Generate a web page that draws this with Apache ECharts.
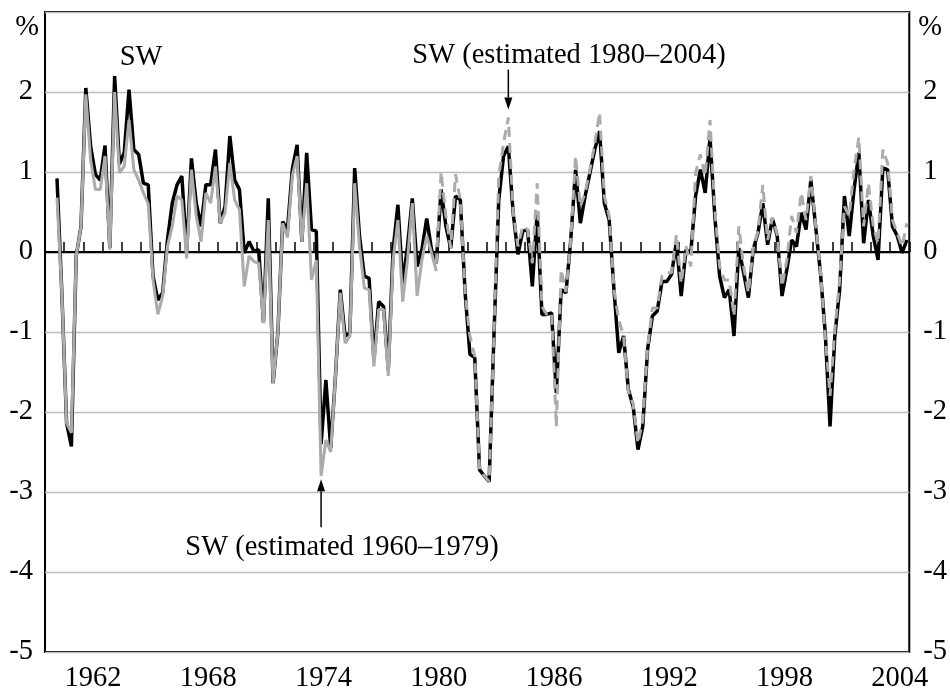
<!DOCTYPE html>
<html>
<head>
<meta charset="utf-8">
<script src="https://cdn.jsdelivr.net/npm/echarts@6/dist/echarts.min.js"></script>
<style>
  html, body { margin: 0; padding: 0; background: #fff; }
  #chart { width: 950px; height: 696px; }
</style>
</head>
<body>
<div id="chart"></div>
<script>
// quarterly observations, first one is 1960 Q3 (plotted mid-quarter)
const firstQuarter = 1960.625
const yearTicks = { min: 1960, max: 2005 }
const labelYears = [1962, 1968, 1974, 1980, 1986, 1992, 1998, 2004]

// SW, full sample (black)
const sw = [
  0.92, -0.5, -2.14, -2.43, -0.05, 0.32, 2.05, 1.32, 0.97, 0.9,
  1.33, 0.05, 2.2, 1.1, 1.24, 2.03, 1.28, 1.22, 0.86, 0.84,
  -0.3, -0.6, -0.51, 0.15, 0.61, 0.84, 0.95, 0.0, 1.17, 0.61,
  0.32, 0.84, 0.84, 1.28, 0.36, 0.57, 1.45, 0.9, 0.78, -0.01,
  0.13, 0.01, 0.03, -0.88, 0.67, -1.64, -1.01, 0.38, 0.28, 1.03,
  1.34, 0.13, 1.24, 0.28, 0.26, -2.4, -1.6, -2.45, -1.55, -0.47,
  -1.05, -1.01, 1.05, 0.2, -0.3, -0.33, -1.35, -0.62, -0.68, -1.47,
  0.03, 0.59, -0.39, 0.07, 0.67, -0.18, 0.03, 0.42, 0.03, -0.14,
  0.78, 0.32, 0.05, 0.7, 0.65, -0.51, -1.28, -1.32, -2.72, -2.8,
  -2.87, -1.05, 0.65, 1.2, 1.32, 0.49, -0.03, 0.26, 0.28, -0.43,
  0.49, -0.78, -0.78, -0.76, -1.76, -0.47, -0.51, 0.15, 1.03, 0.36,
  0.7, 0.99, 1.28, 1.51, 0.61, 0.4, -0.47, -1.26, -1.05, -1.72,
  -1.93, -2.47, -2.18, -1.22, -0.8, -0.74, -0.37, -0.37, -0.28, 0.13,
  -0.55, 0.03, -0.01, 0.7, 1.03, 0.74, 1.43, 0.45, -0.3, -0.57,
  -0.47, -1.05, 0.05, -0.26, -0.57, 0.03, 0.24, 0.61, 0.09, 0.42,
  0.2, -0.55, -0.22, 0.15, 0.07, 0.49, 0.28, 0.9, 0.32, -0.26,
  -1.01, -2.18, -1.05, -0.47, 0.7, 0.2, 0.78, 1.24, 0.11, 0.65,
  0.2, -0.1, 1.05, 1.03, 0.32, 0.2, -0.01, 0.15
]

// SW estimated 1960-1979 (grey solid), starts at the first quarter
const sw6079 = [
  0.68, -0.5, -2.14, -2.26, -0.05, 0.32, 1.97, 1.15, 0.78, 0.78,
  1.2, 0.03, 2.0, 0.99, 1.07, 1.65, 1.03, 0.9, 0.74, 0.6,
  -0.35, -0.78, -0.55, 0.07, 0.32, 0.7, 0.65, -0.08, 1.03, 0.45,
  0.13, 0.74, 0.61, 1.07, 0.36, 0.49, 1.11, 0.65, 0.53, -0.43,
  -0.05, -0.12, -0.14, -0.89, 0.4, -1.64, -1.01, 0.36, 0.18, 0.95,
  1.2, 0.13, 0.86, -0.35, -0.1, -2.8, -2.35, -2.5, -1.55, -0.51,
  -1.14, -1.05, 0.86, 0.07, -0.45, -0.47, -1.43, -0.72, -0.72, -1.55,
  -0.1, 0.4, -0.62, -0.1, 0.61, -0.55, -0.1, 0.2, -0.01, -0.24
]

// SW estimated 1980-2004 (grey dashed), starts at observation 79
const sw8004Start = 79
const sw8004 = [
  -0.14, 1.0, 0.45, 0.05, 0.97, 0.65, -0.51, -1.05, -1.3, -2.72,
  -2.8, -2.87, -1.05, 0.95, 1.36, 1.68, 0.5, 0.07, 0.32, 0.28,
  -0.14, 0.86, -0.68, -0.78, -0.76, -2.18, -0.22, -0.5, 0.15, 1.2,
  0.57, 0.74, 1.03, 1.36, 1.74, 0.7, 0.45, -0.47, -0.85, -1.05,
  -1.74, -1.9, -2.39, -2.1, -1.2, -0.7, -0.7, -0.3, -0.26, -0.26,
  0.22, -0.39, 0.07, -0.18, 0.99, 1.22, 0.95, 1.65, 0.53, -0.18,
  -0.35, -0.35, -0.8, 0.32, -0.18, -0.51, 0.05, 0.26, 0.84, 0.15,
  0.43, 0.22, -0.43, -0.1, 0.45, 0.24, 0.74, 0.4, 0.95, 0.34,
  -0.24, -1.05, -1.8, -0.97, -0.35, 0.57, 0.45, 1.03, 1.43, 0.32,
  0.86, 0.32, 0.11, 1.28, 1.11, 0.4, 0.24, 0.07, 0.36
]

const dates = sw.map((_, i) => firstQuarter + i * 0.25)
const pairs = (vals, start) => vals.map((v, k) => [dates[start + k], v])

const font = 'Liberation Serif, Times New Roman, serif'
const fontSize = 28.5
const grey = '#ababab'
const gridGrey = '#bdbdbd'

const chart = echarts.init(document.getElementById('chart'))

const option = {
  animation: false,
  backgroundColor: '#fff',
  textStyle: { fontFamily: font },
  grid: {
    show: true,
    left: 45, right: 39, top: 12, bottom: 44,
    borderColor: '#000', borderWidth: 2
  },
  xAxis: [
    {
      type: 'value',
      min: yearTicks.min, max: yearTicks.max, interval: 1,
      axisLine: { show: true, lineStyle: { color: '#000', width: 2 } },
      axisTick: { show: true, inside: true, length: 10, lineStyle: { color: '#000', width: 1.5 } },
      axisLabel: { show: false },
      splitLine: { show: false }
    },
    {
      type: 'value',
      position: 'bottom',
      min: yearTicks.min, max: yearTicks.max, interval: 0.5,
      axisLine: { show: false },
      axisTick: { show: false },
      splitLine: { show: false },
      axisLabel: {
        margin: 12,
        fontSize: fontSize, color: '#000', fontFamily: font,
        formatter: v => {
          const y = Math.floor(v)
          return (v - y === 0.5 && labelYears.indexOf(y) >= 0) ? String(y) : ''
        }
      }
    }
  ],
  yAxis: [
    {
      type: 'value', position: 'left',
      min: -5, max: 3, interval: 1,
      axisLine: { show: false },
      axisTick: { show: false },
      axisLabel: {
        margin: 12, fontSize: fontSize, color: '#000', fontFamily: font,
        formatter: v => v === 3 ? '' : String(v)
      },
      splitLine: {
        show: true,
        lineStyle: {
          color: [gridGrey, gridGrey, gridGrey, gridGrey, gridGrey, '#000', gridGrey, gridGrey, gridGrey],
          width: 1.3
        }
      }
    },
    {
      type: 'value', position: 'right',
      min: -5, max: 3, interval: 1,
      axisLine: { show: false },
      axisTick: { show: false },
      axisLabel: {
        margin: 14, fontSize: fontSize, color: '#000', fontFamily: font,
        formatter: v => v === 3 ? '' : String(v)
      },
      splitLine: { show: false }
    }
  ],
  series: [
    {
      name: 'SW', type: 'line', symbol: 'none',
      data: pairs(sw, 0),
      lineStyle: { color: '#000', width: 3.5 }
    },
    {
      name: 'SW (estimated 1960–1979)', type: 'line', symbol: 'none',
      data: pairs(sw6079, 0),
      lineStyle: { color: grey, width: 3 }
    },
    {
      name: 'SW (estimated 1980–2004)', type: 'line', symbol: 'none',
      data: pairs(sw8004, sw8004Start),
      lineStyle: { color: grey, width: 3, type: [10, 6] }
    }
  ]
}

chart.setOption(option)

// annotations: arrows anchored in data space
const px = (x, y) => chart.convertToPixel({ xAxisIndex: 0, yAxisIndex: 0 }, [x, y])
const arrow = (from, to) => {
  const a = px(from[0], from[1]), b = px(to[0], to[1])
  const dir = b[1] > a[1] ? 1 : -1
  const head = 12, half = 4
  return [
    { type: 'line', shape: { x1: a[0], y1: a[1], x2: b[0], y2: b[1] - dir * head }, style: { stroke: '#000', lineWidth: 1.5 } },
    { type: 'polygon', shape: { points: [[b[0], b[1]], [b[0] - half, b[1] - dir * head], [b[0] + half, b[1] - dir * head]] }, style: { fill: '#000' } }
  ]
}
const txt = (x, y, s) => ({
  type: 'text', x: x, y: y,
  style: { text: s, font: fontSize + 'px ' + font, fill: '#000', textAlign: 'center', textVerticalAlign: 'middle' }
})

chart.setOption({
  graphic: [
    txt(141, 58, 'SW'),
    txt(569, 56, 'SW (estimated 1980–2004)'),
    txt(342, 548, 'SW (estimated 1960–1979)'),
    txt(27, 28, '%'),
    txt(930, 28, '%'),
    ...arrow([1984.125, 2.28], [1984.125, 1.78]),
    ...arrow([1974.375, -3.44], [1974.375, -2.84])
  ]
})
</script>
</body>
</html>
